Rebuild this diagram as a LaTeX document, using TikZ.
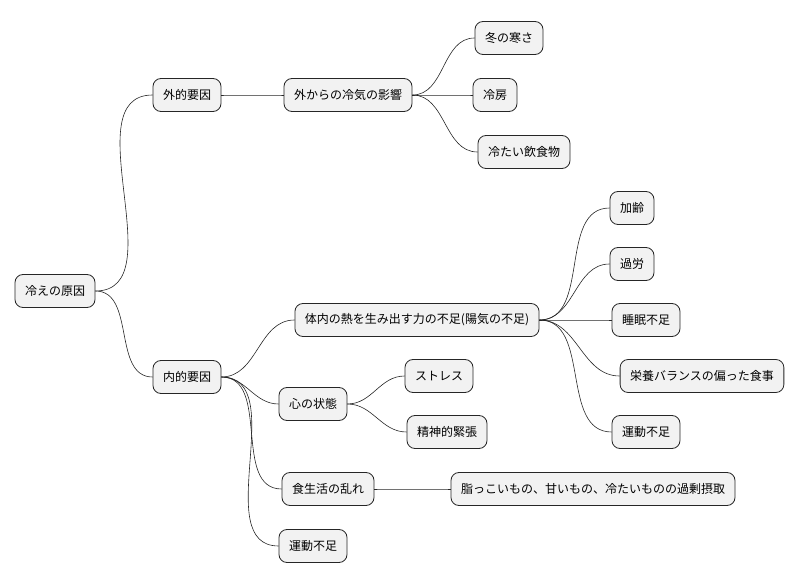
\documentclass[tikz,border=0pt]{standalone}
\usepackage{fontspec}
\setmainfont{Noto Sans CJK JP}
\begin{document}
\begin{tikzpicture}[x=1pt,y=-1pt,
  box/.style={draw=black!85,fill=black!5,rounded corners=8pt,line width=0.8pt,minimum height=33pt,inner xsep=10pt,font=\fontsize{12}{14}\selectfont},
  e/.style={draw=black!85,line width=0.6pt}]
\useasboundingbox (0,0) rectangle (807,583);
\node[box] (r) at (55,291) {冷えの原因};
\node[box] (g) at (187,95) {外的要因};
\node[box] (n) at (187,377) {内的要因};
\node[box] (g1) at (348,95) {外からの冷気の影響};
\node[box] (g11) at (509,38) {冬の寒さ};
\node[box] (g12) at (495,95) {冷房};
\node[box] (g13) at (524,152) {冷たい飲食物};
\node[box] (n1) at (417,320) {体内の熱を生み出す力の不足(陽気の不足)};
\node[box] (n11) at (632,208) {加齢};
\node[box] (n12) at (632,264) {過労};
\node[box] (n13) at (646,320) {睡眠不足};
\node[box] (n14) at (702,376) {栄養バランスの偏った食事};
\node[box] (n15) at (646,432) {運動不足};
\node[box] (n2) at (313,404) {心の状態};
\node[box] (n21) at (439,376) {ストレス};
\node[box] (n22) at (447,432) {精神的緊張};
\node[box] (n3) at (328,489) {食生活の乱れ};
\node[box] (n31) at (593,489) {脂っこいもの、甘いもの、冷たいものの過剰摂取};
\node[box] (n4) at (313,546) {運動不足};
\foreach \a/\b in {r/g,r/n,g/g1,g1/g11,g1/g12,g1/g13,n/n1,n/n2,n/n3,n/n4,n1/n11,n1/n12,n1/n13,n1/n14,n1/n15,n2/n21,n2/n22,n3/n31}
  \draw[e] (\a.east) to[out=0,in=180] (\b.west);
\end{tikzpicture}
\end{document}
